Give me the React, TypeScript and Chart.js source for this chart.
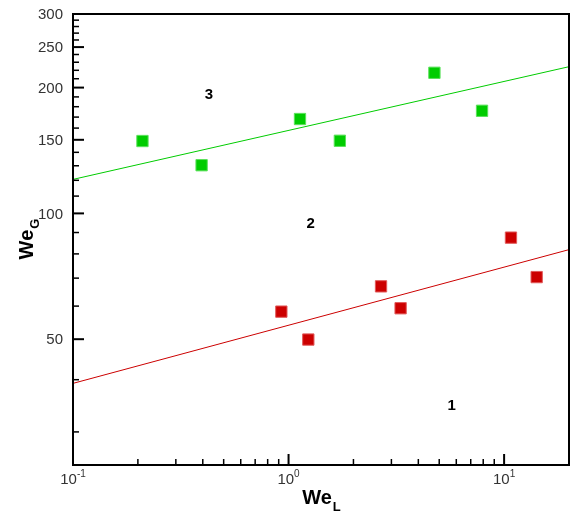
import React, { useEffect, useRef } from "react";
import { Chart, registerables } from "chart.js";

Chart.register(...registerables);

const FONT = '"Liberation Sans", Arial, Helvetica, sans-serif';

// Region 3 (green) measurements
const weL3 = [0.21, 0.395, 1.13, 1.73, 4.75, 7.9];
const weG3 = [149, 130.4, 168.2, 149.2, 217, 176];
// Region 1 (red) measurements
const weL1 = [0.926, 1.235, 2.685, 3.31, 10.76, 14.16];
const weG1 = [58.2, 49.9, 66.9, 59.3, 87.5, 70.4];
// Boundary lines (end points)
const fitL = [0.1, 20];
const fitG3 = [120.6, 224.4];
const fitG1 = [39.2, 81.9];

const xRange = [0.1, 20];
const yRange = [25, 300];
const xMajorTicks = [0.1, 1, 10];
const xTickExponents = ["-1", "0", "1"];
const xMinorTicks = [0.2, 0.3, 0.4, 0.5, 0.6, 0.7, 0.8, 0.9, 2, 3, 4, 5, 6, 7, 8, 9];
const yMajorTicks = [50, 100, 150, 200, 250, 300];
const yTickLabels = ["50", "100", "150", "200", "250", "300"];
const yMinorTicks = [30, 40, 60, 70, 80, 90, 110, 120, 130, 140, 160, 170, 180, 190, 210, 220, 230, 240, 260, 270, 280, 290];

const regionLabels = ["1", "2", "3"];
const regionX = [5.71, 1.267, 0.427];
const regionY = [34.7, 94.4, 192.5];

const GREEN = "rgb(0,204,0)";
const RED = "rgb(204,0,0)";

const framePlugin = {
  id: "tecframe",
  afterDraw(chart: any) {
    const { ctx, chartArea: a, scales } = chart;
    const xs = scales.x;
    const ys = scales.y;
    ctx.save();
    ctx.strokeStyle = "#000";
    // y ticks (inward)
    ctx.lineWidth = 2;
    yMajorTicks.forEach((v) => {
      const p = ys.getPixelForValue(v);
      if (v >= yRange[1]) return;
      ctx.beginPath();
      ctx.moveTo(a.left, p);
      ctx.lineTo(a.left + 11, p);
      ctx.stroke();
    });
    ctx.lineWidth = 1.5;
    yMinorTicks.forEach((v) => {
      const p = ys.getPixelForValue(v);
      ctx.beginPath();
      ctx.moveTo(a.left, p);
      ctx.lineTo(a.left + 6, p);
      ctx.stroke();
    });
    // x ticks (inward)
    ctx.lineWidth = 2;
    xMajorTicks.forEach((v) => {
      const p = xs.getPixelForValue(v);
      ctx.beginPath();
      ctx.moveTo(p, a.bottom);
      ctx.lineTo(p, a.bottom - 11);
      ctx.stroke();
    });
    ctx.lineWidth = 1.5;
    xMinorTicks.forEach((v) => {
      const p = xs.getPixelForValue(v);
      ctx.beginPath();
      ctx.moveTo(p, a.bottom);
      ctx.lineTo(p, a.bottom - 6);
      ctx.stroke();
    });
    // frame
    ctx.lineWidth = 2;
    ctx.strokeRect(a.left, a.top, a.right - a.left, a.bottom - a.top);

    // y tick labels
    ctx.fillStyle = "#333";
    ctx.font = `15px ${FONT}`;
    ctx.textAlign = "right";
    ctx.textBaseline = "middle";
    yMajorTicks.forEach((v, i) => {
      ctx.fillText(yTickLabels[i], a.left - 10, ys.getPixelForValue(v) + 1);
    });

    // x tick labels with superscripts
    ctx.textBaseline = "alphabetic";
    ctx.textAlign = "left";
    xMajorTicks.forEach((v, i) => {
      const p = xs.getPixelForValue(v);
      ctx.font = `15px ${FONT}`;
      const wBase = ctx.measureText("10").width;
      ctx.font = `10px ${FONT}`;
      const wExp = ctx.measureText(xTickExponents[i]).width;
      const start = p - (wBase + wExp) / 2;
      ctx.font = `15px ${FONT}`;
      ctx.fillText("10", start, a.bottom + 19);
      ctx.font = `10px ${FONT}`;
      ctx.fillText(xTickExponents[i], start + wBase, a.bottom + 12);
    });

    // axis titles
    ctx.fillStyle = "#000";
    ctx.font = `bold 20px ${FONT}`;
    const wWe = ctx.measureText("We").width;
    ctx.font = `bold 13px ${FONT}`;
    const wL = ctx.measureText("L").width;
    const cx = (a.left + a.right) / 2;
    const sx = cx - (wWe + wL) / 2;
    ctx.font = `bold 20px ${FONT}`;
    ctx.fillText("We", sx, 504);
    ctx.font = `bold 13px ${FONT}`;
    ctx.fillText("L", sx + wWe + 1, 511);

    const wG = ctx.measureText("G").width;
    const cy = (a.top + a.bottom) / 2;
    ctx.save();
    ctx.translate(33, cy + (wWe + wG) / 2);
    ctx.rotate(-Math.PI / 2);
    ctx.font = `bold 20px ${FONT}`;
    ctx.fillText("We", 0, 0);
    ctx.font = `bold 13px ${FONT}`;
    ctx.fillText("G", wWe + 1, 6);
    ctx.restore();

    // region labels
    ctx.font = `bold 15px ${FONT}`;
    ctx.textAlign = "center";
    ctx.textBaseline = "middle";
    regionLabels.forEach((t, i) => {
      ctx.fillText(t, xs.getPixelForValue(regionX[i]), ys.getPixelForValue(regionY[i]));
    });
    ctx.restore();
  },
};

export default function App() {
  const ref = useRef<HTMLCanvasElement | null>(null);
  useEffect(() => {
    if (!ref.current) return;
    const chart = new Chart(ref.current, {
      type: "scatter",
      data: {
        datasets: [
          {
            label: "fit3",
            data: fitL.map((x, i) => ({ x, y: fitG3[i] })),
            showLine: true,
            borderColor: GREEN,
            borderWidth: 1,
            pointRadius: 0,
          },
          {
            label: "fit1",
            data: fitL.map((x, i) => ({ x, y: fitG1[i] })),
            showLine: true,
            borderColor: RED,
            borderWidth: 1,
            pointRadius: 0,
          },
          {
            label: "region3",
            data: weL3.map((x, i) => ({ x, y: weG3[i] })),
            pointStyle: "rect",
            pointRadius: 8,
            backgroundColor: GREEN,
            borderColor: "rgb(90,225,90)",
            borderWidth: 1,
          },
          {
            label: "region1",
            data: weL1.map((x, i) => ({ x, y: weG1[i] })),
            pointStyle: "rect",
            pointRadius: 8,
            backgroundColor: RED,
            borderColor: "rgb(225,90,90)",
            borderWidth: 1,
          },
        ],
      },
      options: {
        responsive: false,
        animation: false,
        layout: { autoPadding: false, padding: { top: 14, right: 3, left: 73, bottom: 51 } },
        plugins: {
          legend: { display: false },
          tooltip: { enabled: false },
        },
        scales: {
          x: {
            type: "logarithmic",
            min: xRange[0],
            max: xRange[1],
            grid: { display: false, drawTicks: false },
            border: { display: false },
            ticks: { display: false },
            afterBuildTicks: (s: any) => {
              s.ticks = xMajorTicks.map((v) => ({ value: v }));
            },
            afterFit: (s: any) => {
              s.height = 0;
            },
          },
          y: {
            type: "logarithmic",
            min: yRange[0],
            max: yRange[1],
            grid: { display: false, drawTicks: false },
            border: { display: false },
            ticks: { display: false },
            afterBuildTicks: (s: any) => {
              s.ticks = yMajorTicks.map((v) => ({ value: v }));
            },
            afterFit: (s: any) => {
              s.width = 0;
            },
          },
        },
      },
      plugins: [framePlugin],
    });
    return () => chart.destroy();
  }, []);
  return (
    <div style={{ position: "absolute", left: 0, top: 0, width: 572, height: 516, background: "#fff" }}>
      <canvas ref={ref} width={572} height={516} style={{ display: "block" }} />
    </div>
  );
}
